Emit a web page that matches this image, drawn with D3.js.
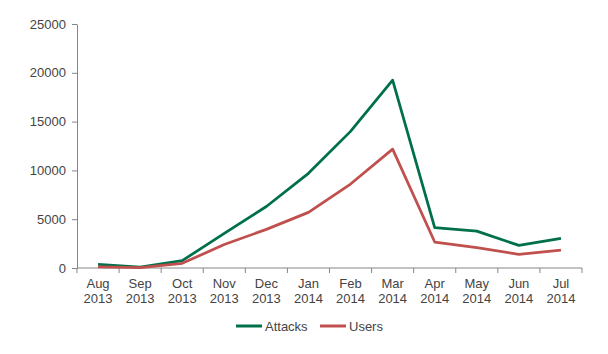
<!DOCTYPE html>
<html>
<head>
<meta charset="utf-8">
<script src="https://cdn.jsdelivr.net/npm/d3@7"></script>
<style>
  body { margin: 0; background: #fff; }
  text { font-family: "Liberation Sans", Arial, sans-serif; }
</style>
</head>
<body>
<div id="chart"></div>
<script>
// ---- data ----
const months = ['Aug 2013', 'Sep 2013', 'Oct 2013', 'Nov 2013', 'Dec 2013', 'Jan 2014',
                'Feb 2014', 'Mar 2014', 'Apr 2014', 'May 2014', 'Jun 2014', 'Jul 2014'];
const attacks = [380, 100, 750, 3550, 6300, 9700, 14000, 19250, 4130, 3780, 2320, 3040];
const users = [120, 50, 480, 2400, 3960, 5700, 8600, 12180, 2660, 2080, 1400, 1840];
const yTicks = [0, 5000, 10000, 15000, 20000, 25000];

const series = [
  { name: 'Attacks', values: attacks, color: '#00704A' },
  { name: 'Users', values: users, color: '#C0504D' }
];

const W = 608, H = 354;
const margin = { top: 24, right: 26, bottom: 86, left: 77 };
const innerW = W - margin.left - margin.right;
const innerH = H - margin.top - margin.bottom;

const svg = d3.select('#chart').append('svg')
  .attr('width', W).attr('height', H);

const g = svg.append('g')
  .attr('transform', `translate(${margin.left},${margin.top})`);

const x = d3.scaleBand().domain(months).range([0, innerW]);
const y = d3.scaleLinear().domain([0, 25000]).range([innerH, 0]);

const axisColor = '#868686';
const textColor = '#444444';

// y axis
const yAxis = g.append('g')
  .call(d3.axisLeft(y).tickValues(yTicks).tickFormat(d3.format('d'))
    .tickSize(5).tickPadding(6).tickSizeOuter(0));
yAxis.select('.domain').attr('stroke', axisColor);
yAxis.selectAll('.tick line').attr('stroke', axisColor);
yAxis.selectAll('.tick text').attr('fill', textColor).attr('font-size', '13px')
  .style('font-family', '"Liberation Sans", Arial, sans-serif');

// x axis: ticks between categories
const xg = g.append('g').attr('transform', `translate(0,${innerH})`);
xg.append('line').attr('x1', 0).attr('x2', innerW).attr('stroke', axisColor);
const bounds = months.map(m => x(m)).concat([innerW]);
xg.selectAll('.xtick').data(bounds).join('line')
  .attr('x1', d => d).attr('x2', d => d).attr('y1', 0).attr('y2', 5)
  .attr('stroke', axisColor);
const lbl = xg.selectAll('.xlabel').data(months).join('text')
  .attr('x', d => x(d) + x.bandwidth() / 2)
  .attr('text-anchor', 'middle')
  .attr('fill', textColor).attr('font-size', '13px');
lbl.append('tspan').attr('x', d => x(d) + x.bandwidth() / 2).attr('y', 20)
  .text(d => d.split(' ')[0]);
lbl.append('tspan').attr('x', d => x(d) + x.bandwidth() / 2).attr('y', 35)
  .text(d => d.split(' ')[1]);

// lines
const line = d3.line()
  .x((d, i) => x(months[i]) + x.bandwidth() / 2)
  .y(d => y(d));

series.forEach(s => {
  g.append('path').datum(s.values)
    .attr('fill', 'none')
    .attr('stroke', s.color)
    .attr('stroke-width', 2.75)
    .attr('stroke-linejoin', 'round')
    .attr('d', line);
});

// legend
const legendY = 326;
const legendX = [236, 320];
series.forEach((s, i) => {
  const lg = svg.append('g').attr('transform', `translate(${legendX[i]},${legendY})`);
  lg.append('line').attr('x1', 0).attr('x2', 26).attr('y1', 0).attr('y2', 0)
    .attr('stroke', s.color).attr('stroke-width', 3);
  lg.append('text').attr('x', 29).attr('y', 4.5)
    .attr('fill', textColor).attr('font-size', '13px').text(s.name);
});
</script>
</body>
</html>
